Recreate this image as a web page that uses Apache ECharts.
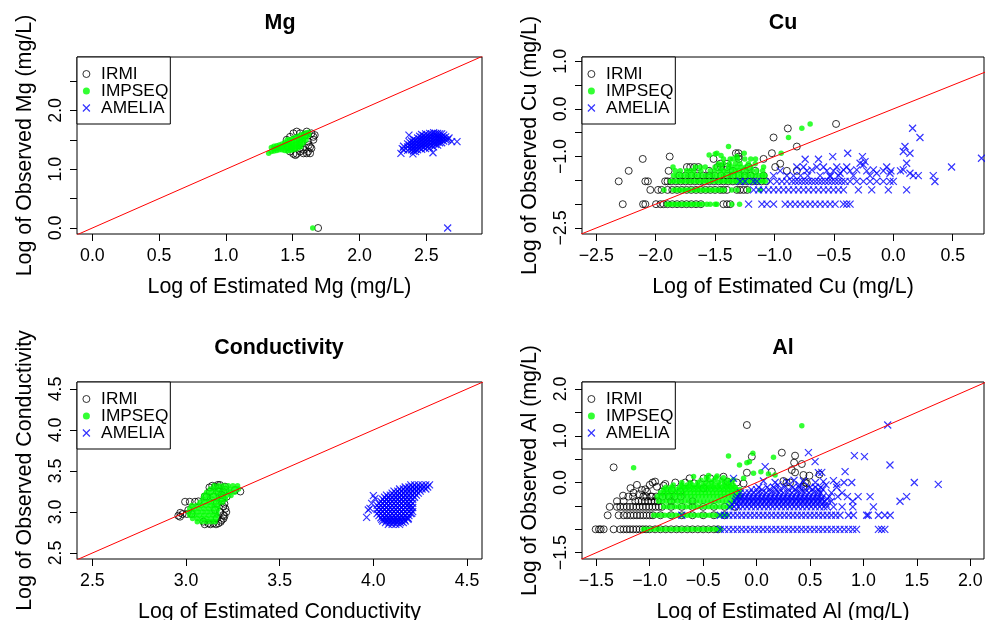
<!DOCTYPE html>
<html><head><meta charset="utf-8">
<script src="https://cdn.jsdelivr.net/npm/echarts@6/dist/echarts.min.js"></script>
<style>html,body{margin:0;padding:0;background:#fff}#c{width:985px;height:620px}</style>
</head><body><div id="c"></div><script>
// ---------------- Mg ----------------
const mgXTicks = [0, 0.5, 1, 1.5, 2, 2.5];
const mgYTicks = [0, 0.5, 1, 1.5, 2, 2.5];
const mgYLabels = [0, 1, 2];
const mgIRMI = [[1.48,1.55],[1.505,1.61],[1.53,1.64],[1.555,1.61],[1.605,1.64],[1.64,1.61],[1.655,1.55],[1.665,1.58],[1.63,1.38],[1.64,1.355],[1.615,1.30],[1.63,1.27],[1.605,1.27],[1.555,1.30],[1.53,1.26],[1.505,1.26],[1.48,1.30],[1.555,1.355],[1.58,1.33],[1.565,1.44],[1.615,1.47],[1.655,1.50],[1.455,1.50],[1.465,1.38],[1.59,1.58],[1.62,1.41],[1.52,1.24],[1.58,1.27],[1.69,0.0]];
const mgIMPSEQ = [[1.32,1.27],[1.34,1.30],[1.34,1.37],[1.36,1.31],[1.36,1.35],[1.36,1.39],[1.38,1.32],[1.38,1.36],[1.38,1.40],[1.40,1.33],[1.40,1.37],[1.40,1.41],[1.42,1.33],[1.42,1.38],[1.42,1.43],[1.44,1.32],[1.44,1.37],[1.44,1.42],[1.44,1.46],[1.46,1.31],[1.46,1.36],[1.46,1.41],[1.46,1.46],[1.46,1.50],[1.48,1.32],[1.48,1.36],[1.48,1.40],[1.48,1.45],[1.48,1.50],[1.50,1.33],[1.50,1.37],[1.50,1.41],[1.50,1.46],[1.50,1.52],[1.52,1.34],[1.52,1.38],[1.52,1.43],[1.52,1.48],[1.52,1.54],[1.54,1.36],[1.54,1.40],[1.54,1.45],[1.54,1.50],[1.54,1.56],[1.56,1.38],[1.56,1.43],[1.56,1.48],[1.56,1.53],[1.56,1.58],[1.58,1.45],[1.58,1.50],[1.58,1.55],[1.58,1.60],[1.60,1.50],[1.60,1.56],[1.60,1.62],[1.62,1.58],[1.62,1.63],[1.65,0.0]];
const mgAMELIA = [[2.31,1.27],[2.32,1.35],[2.37,1.58],[2.40,1.26],[2.42,1.30],[2.55,1.28],[2.69,1.47],[2.73,1.47],[2.66,1.50],[2.66,0.0],[2.33,1.33],[2.33,1.39],[2.36,1.32],[2.36,1.38],[2.36,1.43],[2.39,1.33],[2.39,1.38],[2.39,1.43],[2.39,1.48],[2.42,1.34],[2.42,1.39],[2.42,1.44],[2.42,1.49],[2.45,1.36],[2.45,1.41],[2.45,1.46],[2.45,1.51],[2.45,1.56],[2.48,1.37],[2.48,1.42],[2.48,1.47],[2.48,1.52],[2.48,1.57],[2.51,1.38],[2.51,1.43],[2.51,1.48],[2.51,1.53],[2.51,1.58],[2.54,1.40],[2.54,1.45],[2.54,1.50],[2.54,1.55],[2.54,1.60],[2.57,1.42],[2.57,1.47],[2.57,1.52],[2.57,1.57],[2.57,1.61],[2.60,1.45],[2.60,1.50],[2.60,1.55],[2.60,1.60],[2.63,1.48],[2.63,1.53],[2.63,1.58],
  [2.375,1.35],[2.375,1.41],[2.375,1.46],[2.405,1.31],[2.405,1.36],[2.405,1.41],[2.405,1.46],[2.405,1.51],[2.435,1.33],[2.435,1.38],[2.435,1.43],[2.435,1.48],[2.435,1.53],[2.465,1.34],[2.465,1.39],[2.465,1.44],[2.465,1.49],[2.465,1.54],[2.465,1.59],[2.495,1.35],[2.495,1.40],[2.495,1.45],[2.495,1.50],[2.495,1.55],[2.495,1.60],[2.525,1.36],[2.525,1.41],[2.525,1.46],[2.525,1.51],[2.525,1.56],[2.525,1.61],[2.555,1.38],[2.555,1.43],[2.555,1.48],[2.555,1.53],[2.555,1.58],[2.555,1.62],[2.585,1.41],[2.585,1.46],[2.585,1.51],[2.585,1.56],[2.585,1.61],[2.615,1.45],[2.615,1.50],[2.615,1.55],[2.615,1.60],[2.645,1.50],[2.645,1.55],[2.67,1.53]];

// ---------------- Cu ----------------
const cuXTicks = [-2.5, -2, -1.5, -1, -0.5, 0, 0.5];
const cuYTicks = [-2.5, -2, -1.5, -1, -0.5, 0, 0.5, 1];
const cuYLabels = [-2.5, -1, 0, 1];
const cuIRMIRows = [
  [-2.0, [-2.277,-2.106,-2.087,-1.997,-1.96,-1.933,-1.90,-1.86,-1.82,-1.78,-1.74,-1.70,-1.66,-1.62,-1.43,-1.40,-1.373]],
  [-1.70, [-2.045,-1.98,-1.95,-1.90,-1.86,-1.82,-1.78,-1.74,-1.70,-1.66,-1.62,-1.58,-1.54,-1.50,-1.457,-1.43,-1.40,-1.317,-1.29,-1.26,-1.23]],
  [-1.52, [-2.311,-2.087,-2.065,-1.92,-1.90,-1.87,-1.83,-1.79,-1.75,-1.71,-1.67,-1.63,-1.59,-1.55,-1.51,-1.47,-1.43,-1.39,-1.35,-1.31,-1.27,-1.23,-1.19,-1.15,-1.11,-1.07]],
  [-1.40, [-1.80,-1.75,-1.70,-1.65,-1.60,-1.55,-1.50,-1.45,-1.40,-1.35,-1.30,-1.25,-1.20,-1.092]],
  [-1.30, [-2.227,-1.891,-1.55,-1.35,-1.25,-1.162,-0.896,-0.812]],
  [-1.22, [-1.737,-1.709,-1.675,-1.64,-1.48,-1.45,-1.40,-1.218,-0.994]],
  [-1.15, [-1.457,-1.40,-0.952]],
  [-1.05, [-2.109,-1.513,-1.30,-1.092]]
];
const cuIRMIPts = [[-1.882,-1.0],[-1.325,-0.93],[-1.303,-0.93],[-1.022,-0.93],[-0.812,-0.79],[-1.008,-0.60],[-0.888,-0.41],[-0.482,-0.315],[-1.30,-1.0]];
const cuIMPSEQRows = [
  [-2.0, [-1.905,-1.88,-1.855,-1.83,-1.805,-1.78,-1.755,-1.73,-1.705,-1.68,-1.655,-1.63,-1.605,-1.569,-1.541,-1.499,-1.485,-1.359,-1.294]],
  [-1.70, [-1.93,-1.85,-1.825,-1.80,-1.775,-1.75,-1.725,-1.70,-1.675,-1.65,-1.625,-1.60,-1.575,-1.55,-1.525,-1.50,-1.475,-1.45,-1.425,-1.36,-1.316,-1.218,-1.12]],
  [-1.52, [-1.875,-1.85,-1.825,-1.80,-1.775,-1.75,-1.725,-1.70,-1.675,-1.65,-1.625,-1.60,-1.575,-1.55,-1.525,-1.50,-1.475,-1.45,-1.425,-1.40,-1.375,-1.35,-1.325,-1.30,-1.275,-1.25,-1.225,-1.20,-1.175,-1.15,-1.125,-1.10,-1.075]],
  [-1.40, [-1.85,-1.82,-1.79,-1.76,-1.73,-1.70,-1.67,-1.64,-1.61,-1.58,-1.55,-1.52,-1.49,-1.46,-1.43,-1.40,-1.37,-1.34,-1.31,-1.28,-1.25,-1.22,-1.19,-1.16,-1.13,-1.10,-1.08]],
  [-1.30, [-1.835,-1.793,-1.74,-1.709,-1.68,-1.62,-1.541,-1.50,-1.457,-1.43,-1.40,-1.359,-1.33,-1.30,-1.27,-1.232,-1.19,-1.15,-1.10]],
  [-1.22, [-1.854,-1.667,-1.625,-1.583,-1.50,-1.45,-1.387,-1.36,-1.317,-1.28,-1.24,-1.20,-1.092]],
  [-1.15, [-1.47,-1.43,-1.38,-1.33,-1.29,-1.22,-1.162]],
  [-1.05, [-1.429,-1.373,-1.35,-1.31,-1.25,-1.20,-1.16]]
];
const cuIMPSEQPts = [[-1.499,-0.944],[-1.485,-0.93],[-1.387,-0.79],[-1.317,-1.0],[-1.255,-0.93],[-0.944,-0.93],[-0.882,-0.60],[-0.77,-0.406],[-0.70,-0.315],[-1.55,-0.97],[-1.45,-0.98]];
const cuAMELIARows = [
  [-1.52, [-1.289,-1.247,-1.176,-1.148,-1.036,-0.98,-0.938,-0.896,-0.854,-0.826,-0.798,-0.77,-0.742,-0.714,-0.686,-0.658,-0.63,-0.602,-0.574,-0.546,-0.518,-0.49,-0.462,-0.434,-0.406,-0.364,-0.308,-0.252,-0.196,-0.14,-0.084,-0.028,0.0]],
  [-1.70, [-1.176,-1.134,-1.092,-1.05,-1.008,-0.966,-0.924,-0.882,-0.84,-0.798,-0.756,-0.714,-0.672,-0.63,-0.588,-0.546,-0.504,-0.462,-0.42,-0.294,-0.182,-0.042,0.112]],
  [-2.0, [-1.218,-1.106,-1.064,-1.008,-0.91,-0.868,-0.826,-0.784,-0.742,-0.70,-0.658,-0.616,-0.574,-0.532,-0.49,-0.42,-0.392,-0.364]],
  [-1.40, [-1.008,-0.896,-0.84,-0.78,-0.72,-0.616,-0.532,-0.46,-0.336,-0.196,0.168,0.21,0.336]],
  [-1.30, [-0.952,-0.728,-0.56,-0.504,-0.364,-0.224,-0.084,-0.02,0.06]],
  [-1.22, [-0.812,-0.756,-0.644,-0.588,-0.476,-0.392,-0.056,0.49]]
];
const cuAMELIAPts = [[-0.686,-1.28],[-0.42,-1.28],[-0.308,-1.28],[-0.168,-1.28],[0.084,-1.28],[-0.448,-1.35],[-0.14,-1.35],[-0.028,-1.35],[0.14,-1.35],[-0.28,-1.14],[-0.252,-1.175],[0.112,-1.14],[0.742,-1.035],[-0.742,-1.056],[-0.63,-1.056],[-0.51,-1.0],[-0.384,-0.93],[-0.26,-1.0],[-0.238,-1.105],[0.084,-0.895],[0.098,-0.79],[0.14,-0.93],[0.162,-0.405],[0.224,-0.60],[-0.532,-1.42],[0.35,-1.524]];

// ---------------- Conductivity ----------------
const condXTicks = [2.5, 3, 3.5, 4, 4.5];
const condYTicks = [2.5, 3, 3.5, 4, 4.5];
const condIRMI = [[2.968,2.943],[2.982,2.976],[2.959,2.955],[2.969,2.99],[2.995,3.125],[3.02,3.125],[3.048,3.125],[3.066,3.13],[3.10,3.19],[3.11,3.187],[3.012,3.024],[3.03,2.976],[3.004,2.976],[3.29,3.25],[3.262,3.268],[3.155,3.309],[3.181,3.329],[3.208,3.309],[3.199,3.248],[3.217,3.187],[3.19,3.126],[3.199,3.065],[3.181,3.004],[3.199,2.963],[3.19,2.902],[3.173,2.862],[3.146,2.862],[3.119,2.862],[3.093,2.882],[3.164,2.923],[3.164,3.106],[3.146,3.187],[3.128,3.248],[3.173,3.248],[3.155,3.024],[3.175,3.29],[3.14,3.32],[3.19,3.21],[3.205,3.10],[3.21,3.04],[3.20,2.92],[3.185,2.88],[3.16,2.85],[3.13,2.85],[3.195,3.17],[3.17,3.33],[3.125,3.30],[3.21,3.27],[3.10,2.85],[3.215,3.0],[3.205,2.95]];
const condIMPSEQRows = [
  [3.32, [3.15,3.175,3.20,3.225,3.25,3.275]],
  [3.28, [3.13,3.155,3.18,3.205,3.23,3.255,3.28]],
  [3.24, [3.11,3.135,3.16,3.185,3.21,3.235,3.26]],
  [3.20, [3.095,3.12,3.145,3.17,3.195,3.215,3.24]],
  [3.16, [3.09,3.115,3.14,3.165,3.19,3.21]],
  [3.12, [3.075,3.10,3.125,3.15,3.175,3.195]],
  [3.08, [3.03,3.055,3.08,3.105,3.13,3.15,3.17]],
  [3.04, [3.02,3.045,3.07,3.095,3.12,3.145,3.17]],
  [3.00, [3.015,3.04,3.065,3.09,3.115,3.14,3.165]],
  [2.96, [3.02,3.045,3.07,3.095,3.12,3.145,3.165]],
  [2.92, [3.035,3.06,3.085,3.11,3.135,3.16]],
  [2.88, [3.06,3.085,3.11,3.135,3.155]]
];
const condAMELIARows = [
  [3.33, [4.20,4.22,4.24,4.26,4.28,4.30]],
  [3.305, [4.17,4.19,4.21,4.23,4.25,4.27,4.29]],
  [3.28, [4.14,4.16,4.18,4.20,4.22,4.24,4.26,4.28]],
  [3.255, [4.11,4.13,4.15,4.17,4.19,4.21,4.23,4.25]],
  [3.23, [4.10,4.12,4.14,4.16,4.18,4.20,4.22,4.24]],
  [3.205, [4.07,4.09,4.11,4.13,4.15,4.17,4.19,4.21,4.23]],
  [3.18, [4.06,4.08,4.10,4.12,4.14,4.16,4.18,4.20,4.22]],
  [3.155, [4.05,4.07,4.09,4.11,4.13,4.15,4.17,4.19,4.21]],
  [3.13, [4.04,4.06,4.08,4.10,4.12,4.14,4.16,4.18,4.20]],
  [3.105, [4.03,4.05,4.07,4.09,4.11,4.13,4.15,4.17,4.19,4.21]],
  [3.08, [4.02,4.04,4.06,4.08,4.10,4.12,4.14,4.16,4.18,4.20]],
  [3.055, [4.03,4.05,4.07,4.09,4.11,4.13,4.15,4.17,4.19,4.21]],
  [3.03, [4.02,4.04,4.06,4.08,4.10,4.12,4.14,4.16,4.18,4.20]],
  [3.005, [4.03,4.05,4.07,4.09,4.11,4.13,4.15,4.17,4.19,4.21]],
  [2.98, [4.02,4.04,4.06,4.08,4.10,4.12,4.14,4.16,4.18,4.20]],
  [2.955, [4.03,4.05,4.07,4.09,4.11,4.13,4.15,4.17,4.19]],
  [2.93, [4.04,4.06,4.08,4.10,4.12,4.14,4.16,4.18]],
  [2.91, [4.045,4.065,4.085,4.105,4.125,4.145,4.165,4.185]],
  [2.89, [4.05,4.07,4.09,4.11,4.13,4.15,4.17]],
  [2.87, [4.065,4.085,4.105,4.125,4.145,4.16]],
  [2.85, [4.08,4.10,4.12,4.14]]
];
const condAMELIAPts = [[3.964,2.935],[3.982,3.045],[4.009,3.167],[3.991,3.106],[3.973,3.024],[4.196,3.065],[4.205,2.984],[4.187,2.923],[4.0,3.2]];

// ---------------- Al ----------------
const alXTicks = [-1.5, -1, -0.5, 0, 0.5, 1, 1.5, 2];
const alYTicks = [-1.5, -1, -0.5, 0, 0.5, 1, 1.5, 2];
const alYLabels = [-1.5, 0, 1, 2];
const alIRMIRows = [
  [-1.0, [-1.506,-1.475,-1.459,-1.431,-1.338,-1.276,-1.245,-1.215,-1.185,-1.155,-1.125,-1.095,-1.065,-1.035,-1.0,-0.95,-0.9,-0.85,-0.8,-0.75,-0.7,-0.65,-0.6,-0.55,-0.5,-0.45,-0.4,-0.36]],
  [-0.70, [-1.394,-1.291,-1.244,-1.213,-1.18,-1.15,-1.12,-1.09,-1.06,-1.03,-1.0,-0.97,-0.9,-0.8,-0.7,-0.6,-0.5,-0.4,-0.3]],
  [-0.52, [-1.375,-1.307,-1.276,-1.245,-1.215,-1.185,-1.155,-1.125,-1.095,-1.065,-1.035,-1.005,-0.975,-0.945,-0.915,-0.885,-0.8,-0.7,-0.6,-0.5,-0.4,-0.3,-0.2]],
  [-0.40, [-1.307,-1.244,-1.135,-1.105,-1.075,-1.045,-1.015,-0.985,-0.955,-0.925,-0.8,-0.6]],
  [-0.30, [-1.157,-1.06,-1.03,-0.99,-0.94,-0.88,-0.82,-0.77,-0.71]]
];
const alIRMIPts = [[-1.338,0.325],[-0.973,0.0],[-1.151,-0.217],[-1.073,-0.16],[-1.042,-0.145],[-1.026,-0.195],[-0.933,-0.09],[-0.87,-0.067],[-0.855,-0.03],[-0.886,-0.195],[-0.761,0.0],[-0.668,0.0],[-0.627,0.09],[-0.584,-0.017],[-0.497,0.09],[-0.434,0.09],[-0.715,-0.195],[-0.793,-0.16],[-0.497,-0.124],[-0.31,0.125],[-0.272,0.018],[-0.185,0.0],[-0.122,-0.02],[-0.091,1.23],[-0.045,0.553],[-0.091,0.211],[0.142,0.232],[0.236,0.639],[0.36,0.575],[0.351,0.425],[0.423,0.396],[0.36,0.218],[0.494,0.147],[0.588,0.175],[0.314,0.0],[0.454,0.0],[0.438,-0.088],[0.329,0.268],[0.438,0.161],[0.47,-0.017],[0.251,0.033],[0.28,0.0],[-1.20,-0.30],[-1.25,-0.28],[-1.10,-0.25],[-0.98,-0.30],[-1.18,-0.12],[-1.0,-0.05],[-0.95,0.02],[-1.12,-0.05]];
const alIMPSEQRows = [
  [-1.0, [-1.058,-1.025,-0.99,-0.955,-0.92,-0.885,-0.85,-0.815,-0.78,-0.745,-0.71,-0.675,-0.64,-0.605,-0.57,-0.535,-0.50,-0.465,-0.43,-0.395,-0.36,-0.34]],
  [-0.70, [-0.964,-0.93,-0.895,-0.86,-0.825,-0.79,-0.755,-0.72,-0.685,-0.65,-0.615,-0.58,-0.545,-0.51,-0.475,-0.44,-0.405,-0.37,-0.335,-0.30,-0.278]],
  [-0.52, [-0.871,-0.835,-0.80,-0.765,-0.73,-0.695,-0.66,-0.625,-0.59,-0.555,-0.52,-0.485,-0.45,-0.415,-0.38,-0.345,-0.31,-0.275,-0.25]],
  [-0.40, [-0.917,-0.88,-0.845,-0.81,-0.775,-0.74,-0.705,-0.67,-0.635,-0.60,-0.565,-0.53,-0.495,-0.46,-0.425,-0.39,-0.355,-0.32,-0.285,-0.25,-0.215]],
  [-0.30, [-0.93,-0.895,-0.86,-0.825,-0.79,-0.755,-0.72,-0.685,-0.65,-0.615,-0.58,-0.545,-0.51,-0.475,-0.44,-0.405,-0.37,-0.335,-0.30,-0.265,-0.23,-0.195,-0.16]],
  [-0.22, [-0.90,-0.865,-0.83,-0.795,-0.76,-0.725,-0.69,-0.655,-0.62,-0.585,-0.55,-0.515,-0.48,-0.445,-0.41,-0.375,-0.34,-0.305,-0.27,-0.235,-0.20,-0.165]],
  [-0.15, [-0.87,-0.83,-0.79,-0.75,-0.71,-0.67,-0.63,-0.59,-0.55,-0.51,-0.47,-0.43,-0.39,-0.35,-0.31,-0.27,-0.23,-0.19,-0.155]],
  [-0.10, [-0.85,-0.80,-0.72,-0.68,-0.64,-0.60,-0.56,-0.52,-0.48,-0.44,-0.40,-0.36,-0.32,-0.28,-0.24,-0.20]],
  [-0.05, [-0.78,-0.70,-0.65,-0.60,-0.55,-0.50,-0.45,-0.40,-0.35,-0.30,-0.26,-0.22]],
  [0.0, [-0.70,-0.62,-0.55,-0.48,-0.42,-0.36,-0.30,-0.25]],
  [0.05, [-0.52,-0.45,-0.40,-0.33,-0.27]],
  [0.10, [-0.47,-0.38,-0.31]]
];
const alIMPSEQPts = [[-1.151,0.318],[-0.263,0.567],[-0.16,0.375],[-0.091,0.425],[-0.067,0.447],[-0.035,0.624],[-0.029,0.197],[0.04,0.232],[0.111,0.182],[0.158,0.539],[0.423,1.216],[0.173,0.161],[-0.122,0.09],[-0.216,0.06],[-0.59,0.13],[-0.45,0.15],[-0.37,0.14]];
const alAMELIARows = [
  [-1.0, [-0.34,-0.30,-0.26,-0.22,-0.18,-0.14,-0.10,-0.06,-0.02,0.02,0.06,0.10,0.14,0.18,0.22,0.26,0.30,0.34,0.38,0.42,0.46,0.50,0.54,0.58,0.62,0.66,0.70,0.74,0.78,0.82,0.86,0.90,0.935,1.14,1.17,1.20]],
  [-0.70, [-0.70,-0.34,-0.30,-0.26,-0.22,-0.18,-0.14,-0.10,-0.06,-0.02,0.02,0.06,0.10,0.14,0.18,0.22,0.26,0.30,0.34,0.38,0.42,0.46,0.50,0.54,0.58,0.62,0.66,0.70,0.74,0.78,0.86,0.906,1.03,1.045,1.14,1.20,1.25]],
  [-0.52, [-0.25,-0.21,-0.17,-0.13,-0.09,-0.05,-0.01,0.03,0.07,0.11,0.15,0.19,0.23,0.27,0.31,0.35,0.39,0.43,0.47,0.51,0.55,0.59,0.63,0.66,0.72,0.80,0.90,1.093]],
  [-0.46, [-0.23,-0.19,-0.15,-0.11,-0.07,-0.03,0.01,0.05,0.09,0.13,0.17,0.21,0.25,0.29,0.33,0.37,0.41,0.45,0.49,0.53,0.57,0.61,0.65]],
  [-0.40, [-0.20,-0.16,-0.12,-0.08,-0.04,0.0,0.04,0.08,0.12,0.16,0.20,0.24,0.28,0.32,0.36,0.40,0.44,0.48,0.52,0.56,0.60,0.64,0.70,0.90,1.342]],
  [-0.35, [-0.19,-0.15,-0.11,-0.07,-0.03,0.01,0.05,0.09,0.13,0.17,0.21,0.25,0.29,0.33,0.37,0.41,0.45,0.49,0.53,0.57,0.61,0.66]],
  [-0.30, [-0.18,-0.14,-0.10,-0.06,-0.02,0.02,0.06,0.10,0.14,0.18,0.22,0.26,0.30,0.34,0.38,0.42,0.46,0.50,0.54,0.58,0.62,0.68,0.76,0.85,0.95,1.062,1.404]],
  [-0.22, [-0.15,-0.11,-0.07,-0.03,0.01,0.05,0.09,0.13,0.17,0.21,0.25,0.29,0.33,0.37,0.41,0.45,0.49,0.53,0.57,0.60,0.70,0.80]],
  [-0.15, [-0.05,0.0,0.05,0.12,0.18,0.22,0.30,0.36,0.42,0.46,0.52,0.58,0.62]],
  [-0.10, [0.02,0.10,0.16,0.26,0.34,0.40,0.50,0.55,0.60,0.75]]
];
const alAMELIAPts = [[0.08,0.339],[0.485,0.639],[0.547,0.446],[0.578,0.211],[0.282,0.018],[0.438,0.033],[0.625,0.018],[0.064,0.033],[-0.216,0.09],[0.61,0.218],[0.719,0.04],[0.828,0.232],[0.915,0.575],[1.009,0.553],[0.818,0.0],[0.89,0.0],[1.227,1.23],[1.248,0.375],[1.476,0.0],[1.70,-0.04],[0.173,0.0],[0.35,0.05],[0.40,-0.05],[0.55,0.0],[0.65,-0.05],[0.75,-0.04],[0.20,-0.05]];

// y = x reference line (abline(0,1))
const refLine = [[-5, -5], [6, 6]];
const seriesNames = ['IRMI', 'IMPSEQ', 'AMELIA'];

// ---------------- build ----------------
function fromRows(r) { const out = []; for (const [y, xs] of r) for (const x of xs) out.push([x, y]); return out; }
const FONT = '"Liberation Sans", Arial, Helvetica, sans-serif';
const CROSS = 'path://M0 0L10 10M10 0L0 10';
function fmt(v) { return (v < 0 ? '\u2212' : '') + Math.abs(v).toFixed(1); }

const panels = [
  { title: 'Mg', tx: 280, ty: 13, box: [77, 57, 405, 177], xr: [-0.115, 2.917], yr: [-0.102, 2.908],
    xt: mgXTicks, xl: mgXTicks, yt: mgYTicks, yl: mgYLabels,
    xn: 'Log of Estimated Mg (mg/L)', yn: 'Log of Observed Mg (mg/L)',
    d: [mgIRMI, mgIMPSEQ, mgAMELIA] },
  { title: 'Cu', tx: 783, ty: 13, box: [582, 57, 402, 177], xr: [-2.62, 0.763], yr: [-2.626, 1.09],
    xt: cuXTicks, xl: cuXTicks, yt: cuYTicks, yl: cuYLabels,
    xn: 'Log of Estimated Cu (mg/L)', yn: 'Log of Observed Cu (mg/L)',
    d: [fromRows(cuIRMIRows).concat(cuIRMIPts), fromRows(cuIMPSEQRows).concat(cuIMPSEQPts), fromRows(cuAMELIARows).concat(cuAMELIAPts)] },
  { title: 'Conductivity', tx: 279, ty: 338, box: [77, 382, 405, 177], xr: [2.418, 4.58], yr: [2.427, 4.585],
    xt: condXTicks, xl: condXTicks, yt: condYTicks, yl: condYTicks,
    xn: 'Log of Estimated Conductivity', yn: 'Log of Observed Conductivity',
    d: [condIRMI, fromRows(condIMPSEQRows), fromRows(condAMELIARows).concat(condAMELIAPts)] },
  { title: 'Al', tx: 783, ty: 338, box: [582, 382, 402, 177], xr: [-1.634, 2.128], yr: [-1.635, 2.15],
    xt: alXTicks, xl: alXTicks, yt: alYTicks, yl: alYLabels,
    xn: 'Log of Estimated Al (mg/L)', yn: 'Log of Observed Al (mg/L)',
    d: [fromRows(alIRMIRows).concat(alIRMIPts), fromRows(alIMPSEQRows).concat(alIMPSEQPts), fromRows(alAMELIARows).concat(alAMELIAPts)] }
];

const legendItems = [
  { name: 'IRMI', icon: 'circle', itemStyle: { color: 'rgba(0,0,0,0)', borderColor: '#000', borderWidth: 1 } },
  { name: 'IMPSEQ', icon: 'circle', itemStyle: { color: '#00ff00', borderWidth: 0 } },
  { name: 'AMELIA', icon: CROSS, itemStyle: { color: 'rgba(0,0,0,0)', borderColor: '#0000ff', borderWidth: 1.2 } }
];

const option = {
  animation: false,
  backgroundColor: '#ffffff',
  title: panels.map(p => ({ text: p.title, left: p.tx, top: p.ty, textAlign: 'center', textVerticalAlign: 'top', padding: 0,
    textStyle: { fontSize: 21.4, fontWeight: 'bold', color: '#000', fontFamily: FONT } })),
  legend: panels.map(p => ({
    left: p.box[0], top: p.box[1], orient: 'vertical', selectedMode: false,
    data: legendItems, itemWidth: 19.4, itemHeight: 7, itemGap: 0,
    padding: [8.5, 2, 7.5, 5.3], borderColor: '#000', borderWidth: 1, borderRadius: 0, backgroundColor: '#fff',
    textStyle: { fontSize: 17.3, lineHeight: 16.7, color: '#000', fontFamily: FONT }
  })),
  grid: panels.map(p => ({ left: p.box[0], top: p.box[1], width: p.box[2], height: p.box[3], containLabel: false,
    outerBoundsMode: 'none', show: true, borderColor: '#000', borderWidth: 1, backgroundColor: 'rgba(0,0,0,0)' })),
  xAxis: panels.map((p, i) => ({
    type: 'value', gridIndex: i, min: p.xr[0], max: p.xr[1], position: 'bottom',
    name: p.xn, nameLocation: 'middle', nameGap: 43,
    nameTextStyle: { fontSize: 21.4, color: '#000', fontFamily: FONT },
    axisLine: { show: false, onZero: false },
    axisTick: { show: true, length: 7, customValues: p.xt, lineStyle: { color: '#000', width: 1 } },
    axisLabel: { show: true, customValues: p.xl, formatter: fmt, fontSize: 17.8, color: '#000', fontFamily: FONT, margin: 13 },
    splitLine: { show: false }
  })),
  yAxis: panels.map((p, i) => ({
    type: 'value', gridIndex: i, min: p.yr[0], max: p.yr[1], position: 'left',
    name: p.yn, nameLocation: 'middle', nameGap: 41,
    nameTextStyle: { fontSize: 21.4, color: '#000', fontFamily: FONT },
    axisLine: { show: false, onZero: false },
    axisTick: { show: true, length: 7, customValues: p.yt, lineStyle: { color: '#000', width: 1 } },
    axisLabel: { show: true, customValues: p.yl, formatter: fmt, rotate: 90, fontSize: 17.8, color: '#000', fontFamily: FONT, margin: 12 },
    splitLine: { show: false }
  })),
  series: []
};

panels.forEach((p, i) => {
  option.series.push({ type: 'scatter', name: seriesNames[0], xAxisIndex: i, yAxisIndex: i, data: p.d[0],
    symbol: 'circle', symbolSize: 7, silent: true, clip: true,
    itemStyle: { color: 'rgba(0,0,0,0)', borderColor: '#000', borderWidth: 1 } });
  option.series.push({ type: 'scatter', name: seriesNames[1], xAxisIndex: i, yAxisIndex: i, data: p.d[1],
    symbol: 'circle', symbolSize: 5.5, silent: true, clip: true,
    itemStyle: { color: '#00ff00', borderWidth: 0 } });
  option.series.push({ type: 'scatter', name: seriesNames[2], xAxisIndex: i, yAxisIndex: i, data: p.d[2],
    symbol: CROSS, symbolSize: 7, silent: true, clip: true,
    itemStyle: { color: 'rgba(0,0,0,0)', borderColor: '#0000ff', borderWidth: 1.2 } });
  option.series.push({ type: 'line', name: 'y=x', xAxisIndex: i, yAxisIndex: i, data: refLine,
    symbol: 'none', showSymbol: false, silent: true, clip: true, z: 5,
    lineStyle: { color: '#ff0000', width: 1 } });
});

const chart = echarts.init(document.getElementById('c'), null, { renderer: 'canvas' });
chart.setOption(option);
</script></body></html>
